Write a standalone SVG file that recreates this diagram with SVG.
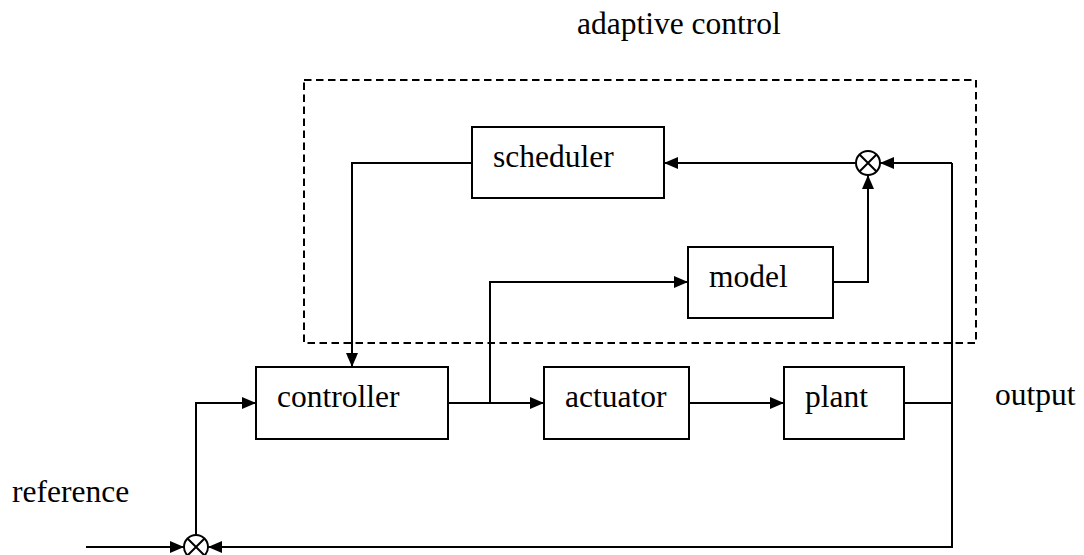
<svg xmlns="http://www.w3.org/2000/svg" width="1084" height="555" viewBox="0 0 1084 555">
<style>
  .box { fill: #fff; stroke: #000; stroke-width: 2; }
  .lbl { font-family: "Liberation Serif", "Times New Roman", serif; font-size: 31.5px; fill: #000; }
  .wire { fill: none; stroke: #000; stroke-width: 2; }
  .arr { marker-end: url(#ah); }
  .sum { fill: #fff; stroke: #000; stroke-width: 2; }
  .dash { fill: none; stroke: #000; stroke-width: 2; stroke-dasharray: 7.5 4.5; }
</style>
<defs>
  <marker id="ah" markerUnits="userSpaceOnUse" markerWidth="14" markerHeight="12" refX="14" refY="6" orient="auto">
    <path d="M0,0 L14,6 L0,12 z" fill="#000"/>
  </marker>
</defs>
<rect width="1084" height="555" fill="#fff"/>

<g id="adaptive-control">
  <rect class="dash" x="304" y="80" width="672" height="263"/>
  <text class="lbl" x="577" y="34">adaptive control</text>
</g>

<g id="connectors">
  <path class="wire arr" d="M472,163 H352 V367"/>
  <path class="wire arr" d="M856,163 H664"/>
  <path class="wire arr" d="M952,163 H880"/>
  <path class="wire arr" d="M833,282 H868 V175"/>
  <path class="wire arr" d="M448,403 H544"/>
  <path class="wire arr" d="M490,403 V282 H688"/>
  <path class="wire arr" d="M689,403 H784"/>
  <path class="wire" d="M904,403 H952"/>
  <path class="wire arr" d="M952,163 V547 H208"/>
  <path class="wire arr" d="M86,547 H184"/>
  <path class="wire arr" d="M196,535 V403 H256"/>
</g>

<g id="scheduler">
  <rect class="box" x="472" y="127" width="192" height="71"/>
  <text class="lbl" x="493" y="167">scheduler</text>
</g>
<g id="model">
  <rect class="box" x="688" y="247" width="145" height="71"/>
  <text class="lbl" x="709" y="287">model</text>
</g>
<g id="controller">
  <rect class="box" x="256" y="367" width="192" height="72"/>
  <text class="lbl" x="277" y="407">controller</text>
</g>
<g id="actuator">
  <rect class="box" x="544" y="367" width="145" height="72"/>
  <text class="lbl" x="565" y="407">actuator</text>
</g>
<g id="plant">
  <rect class="box" x="784" y="367" width="120" height="72"/>
  <text class="lbl" x="805" y="407">plant</text>
</g>
<g id="sum-top">
  <circle class="sum" cx="868" cy="163" r="12"/>
  <path class="wire" d="M859.5,154.5 L876.5,171.5 M876.5,154.5 L859.5,171.5"/>
</g>
<g id="sum-bottom">
  <circle class="sum" cx="196" cy="547" r="12"/>
  <path class="wire" d="M187.5,538.5 L204.5,555.5 M204.5,538.5 L187.5,555.5"/>
</g>
<g id="output">
  <text class="lbl" x="995" y="405">output</text>
</g>
<g id="reference">
  <text class="lbl" x="12" y="502">reference</text>
</g>
</svg>
